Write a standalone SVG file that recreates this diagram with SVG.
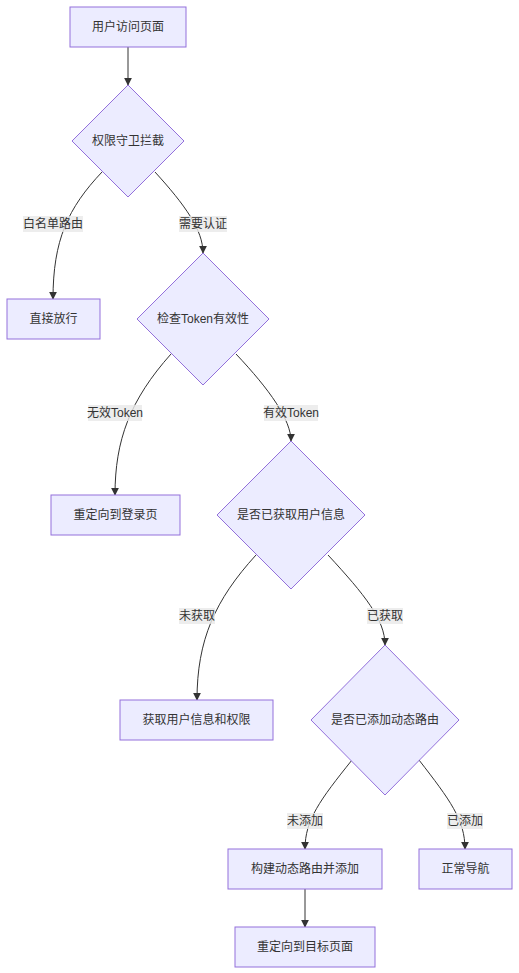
<svg xmlns="http://www.w3.org/2000/svg" width="519" height="973" viewBox="0 0 519 973">
<defs>
<style>
.node rect,.node polygon{fill:#ECECFF;stroke:#9370DB;stroke-width:1}
text{font-family:"Liberation Sans","Noto Sans CJK SC",sans-serif;font-size:12px;fill:#333;text-anchor:middle;dominant-baseline:central}
.edge{fill:none;stroke:#333;stroke-width:1}
.lbl rect{fill:#E8E8E8;opacity:0.8}
</style>
<marker id="arr" viewBox="0 0 10 10" refX="9" refY="5" markerWidth="8" markerHeight="8" markerUnits="userSpaceOnUse" orient="auto"><path d="M0,0 L10,5 L0,10 z" fill="#333"/></marker>
</defs>
<rect width="519" height="973" fill="#fff"/>
<g id="edges">
<path class="edge" d="M128,47 L128,85" marker-end="url(#arr)"/>
<path class="edge" d="M102,172 C68,208 53,240 53,299" marker-end="url(#arr)"/>
<path class="edge" d="M155,172 C185,205 203,230 203,253" marker-end="url(#arr)"/>
<path class="edge" d="M171,354 C130,400 115,440 115,495" marker-end="url(#arr)"/>
<path class="edge" d="M236,354 C270,390 291,420 291,441" marker-end="url(#arr)"/>
<path class="edge" d="M256,555 C215,600 197,640 197,700" marker-end="url(#arr)"/>
<path class="edge" d="M328,555 C365,595 385,620 385,645" marker-end="url(#arr)"/>
<path class="edge" d="M352,760 C320,800 305,820 305,849" marker-end="url(#arr)"/>
<path class="edge" d="M419,760 C450,800 465,820 465,849" marker-end="url(#arr)"/>
<path class="edge" d="M305,889 L305,927" marker-end="url(#arr)"/>
<g class="lbl"><rect x="23" y="216" width="60" height="16"/><text x="53" y="224">白名单路由</text></g>
<g class="lbl"><rect x="179" y="216" width="48" height="16"/><text x="203" y="224">需要认证</text></g>
<g class="lbl"><rect x="88" y="405" width="54" height="16"/><text x="115" y="413">无效Token</text></g>
<g class="lbl"><rect x="264" y="405" width="54" height="16"/><text x="291" y="413">有效Token</text></g>
<g class="lbl"><rect x="179" y="608" width="36" height="16"/><text x="197" y="616">未获取</text></g>
<g class="lbl"><rect x="367" y="608" width="36" height="16"/><text x="385" y="616">已获取</text></g>
<g class="lbl"><rect x="287" y="813" width="36" height="16"/><text x="305" y="821">未添加</text></g>
<g class="lbl"><rect x="447" y="813" width="36" height="16"/><text x="465" y="821">已添加</text></g>
</g>
<g id="A" class="node"><rect x="70" y="7" width="116" height="40"/><text x="128" y="27">用户访问页面</text></g>
<g id="B" class="node"><polygon points="128,85 184,141 128,197 72,141"/><text x="128" y="141">权限守卫拦截</text></g>
<g id="C" class="node"><rect x="7" y="299" width="93" height="40"/><text x="53.5" y="319">直接放行</text></g>
<g id="D" class="node"><polygon points="203,253 269,319 203,385 137,319"/><text x="203" y="319">检查Token有效性</text></g>
<g id="E" class="node"><rect x="51" y="495" width="129" height="40"/><text x="115.5" y="515">重定向到登录页</text></g>
<g id="F" class="node"><polygon points="291,441 365,515 291,589 217,515"/><text x="291" y="515">是否已获取用户信息</text></g>
<g id="G" class="node"><rect x="120" y="700" width="153" height="40"/><text x="196.5" y="720">获取用户信息和权限</text></g>
<g id="H" class="node"><polygon points="385,645 459,720 385,795 311,720"/><text x="385" y="720">是否已添加动态路由</text></g>
<g id="I" class="node"><rect x="228" y="849" width="154" height="40"/><text x="305" y="869">构建动态路由并添加</text></g>
<g id="J" class="node"><rect x="419" y="849" width="93" height="40"/><text x="465.5" y="869">正常导航</text></g>
<g id="K" class="node"><rect x="235" y="927" width="140" height="40"/><text x="305" y="947">重定向到目标页面</text></g>
</svg>
